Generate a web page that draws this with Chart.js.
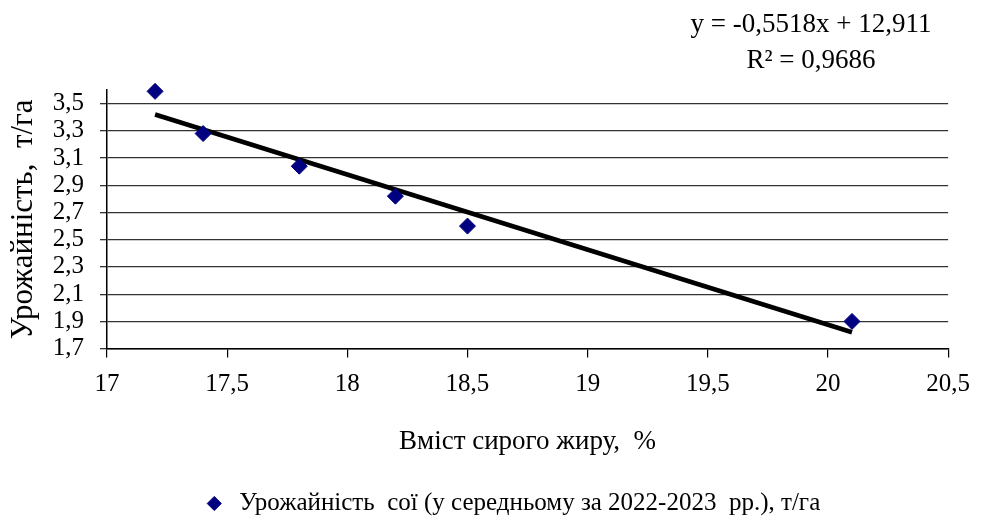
<!DOCTYPE html>
<html>
<head>
<meta charset="utf-8">
<script src="https://cdn.jsdelivr.net/npm/chart.js@4.4.0/dist/chart.umd.min.js"></script>
<style>
  html,body{margin:0;padding:0;background:#fff;}
  #wrap{width:982px;height:520px;position:relative;}
</style>
</head>
<body>
<div id="wrap"><canvas id="c" width="982" height="520"></canvas></div>
<script>
/* data */
const fatX = [17.2, 17.4, 17.8, 18.2, 18.5, 20.1];
const yieldY = [3.59, 3.28, 3.04, 2.82, 2.60, 1.90];
const trendX = [17.2, 20.1];
const trendY = [3.42, 1.82];
const yTicks = [1.7, 1.9, 2.1, 2.3, 2.5, 2.7, 2.9, 3.1, 3.3, 3.5];
const xTicks = [17, 17.5, 18, 18.5, 19, 19.5, 20, 20.5];

const seriesLabel = 'Урожайність  сої (у середньому за 2022-2023  рр.), т/га';
const eqLines = ['y = -0,5518x + 12,911', 'R² = 0,9686'];

const FONT = '"Liberation Serif", "Times New Roman", serif';
const comma = v => String(v).replace('.', ',');

/* trend equation text in the top right */
const eqPlugin = {
  id: 'eq',
  afterDraw(chart){
    const ctx = chart.ctx;
    ctx.save();
    ctx.fillStyle = '#000';
    ctx.font = '27px ' + FONT;
    ctx.textAlign = 'center';
    ctx.textBaseline = 'middle';
    ctx.fillText(eqLines[0], 811, 25);
    ctx.fillText(eqLines[1], 811, 61);
    ctx.restore();
  }
};

new Chart(document.getElementById('c'), {
  type: 'scatter',
  data: {
    datasets: [
      {
        label: seriesLabel,
        data: fatX.map((x, i) => ({x: x, y: yieldY[i]})),
        pointStyle: 'rectRot',
        pointRadius: 8,
        pointHoverRadius: 8,
        backgroundColor: '#000080',
        borderColor: '#000080',
        borderWidth: 1,
        clip: false,
        order: 1
      },
      {
        label: 'trend',
        type: 'line',
        data: trendX.map((x, i) => ({x: x, y: trendY[i]})),
        borderColor: '#000',
        borderWidth: 4.5,
        pointRadius: 0,
        fill: false,
        clip: false,
        order: 2
      }
    ]
  },
  options: {
    responsive: false,
    animation: false,
    layout: {padding: {left: 40, right: 0, top: 90, bottom: -6}},
    plugins: {
      tooltip: {enabled: false},
      legend: {
        position: 'bottom',
        labels: {
          filter: item => item.text !== 'trend',
          usePointStyle: true,
          boxHeight: 10,
          color: '#000',
          padding: 0,
          font: {family: FONT, size: 25}
        }
      }
    },
    scales: {
      x: {
        type: 'linear',
        min: 17, max: 20.5,
        afterBuildTicks: s => { s.ticks = xTicks.map(v => ({value: v})); },
        ticks: {
          color: '#000',
          font: {family: FONT, size: 25},
          padding: 12,
          maxRotation: 0,
          autoSkip: false,
          callback: v => comma(v)
        },
        grid: {drawOnChartArea: false, drawTicks: true, tickLength: 9, color: '#000', lineWidth: 1.2},
        border: {color: '#000', width: 1.5},
        title: {
          display: true,
          text: 'Вміст сирого жиру,  %',
          color: '#000',
          font: {family: FONT, size: 27},
          padding: {top: 14, bottom: 33}
        }
      },
      y: {
        type: 'linear',
        min: 1.7, max: 3.6,
        afterBuildTicks: s => { s.ticks = yTicks.map(v => ({value: v})); },
        afterFit: s => { s.width = 67; },
        ticks: {
          color: '#000',
          font: {family: FONT, size: 25},
          padding: 16,
          autoSkip: false,
          callback: v => comma(v.toFixed(1))
        },
        grid: {color: '#333', lineWidth: 1.3, tickLength: 7},
        border: {color: '#000', width: 1.5},
        title: {
          display: true,
          text: 'Урожайність,  т/га',
          color: '#000',
          font: {family: FONT, size: 31},
          padding: {top: -35, bottom: 0}
        }
      }
    }
  },
  plugins: [eqPlugin]
});
</script>
</body>
</html>
